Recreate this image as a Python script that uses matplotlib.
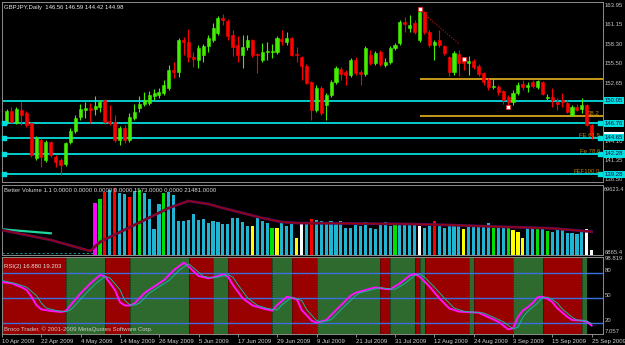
import numpy as np
import matplotlib
matplotlib.use("Agg")
import matplotlib.pyplot as plt
from matplotlib.patches import Rectangle
from matplotlib.transforms import blended_transform_factory as blend

plt.rcParams['font.family'] = ['Liberation Sans', 'DejaVu Sans']

# ---------------- data ----------------
title_text = "GBPJPY,Daily  146.56 146.59 144.42 144.98"
vol_title = "Better Volume 1.1 0.0000 0.0000 0.0000 0.0000 1573.0000 0.0000 21481.0000"
rsi_title = "RSI(2) 16.880 19.203"
copyright_text = "Broco Trader, \u00a9 2001-2009 MetaQuotes Software Corp."

date_labels = ["10 Apr 2009", "22 Apr 2009", "4 May 2009", "14 May 2009", "26 May 2009",
               "5 Jun 2009", "17 Jun 2009", "29 Jun 2009", "9 Jul 2009", "21 Jul 2009",
               "31 Jul 2009", "12 Aug 2009", "24 Aug 2009", "3 Sep 2009", "15 Sep 2009",
               "25 Sep 2009"]
date_label_bars = [0, 8, 16, 24, 32, 40, 48, 56, 64, 72, 80, 88, 96, 104, 112, 120]

opens = [146.95, 148.56, 146.80, 148.70, 148.26, 146.80, 141.69, 144.32, 141.39, 144.02,
         141.83, 141.39, 140.81, 144.02, 145.63, 147.68, 148.70, 149.00, 148.85, 149.14,
         150.16, 147.09, 146.95, 144.32, 146.07, 144.32, 147.53, 149.00, 149.58, 149.73,
         150.75, 150.90, 151.19, 151.92, 154.55, 154.26, 158.94, 158.65, 156.45, 156.01,
         156.74, 158.06, 158.94, 159.96, 162.15, 161.72, 159.67, 158.21, 156.74, 157.91,
         158.94, 156.89, 156.01, 157.18, 157.18, 157.18, 159.08, 158.65, 159.23, 156.89,
         156.45, 155.14, 152.80, 148.70, 151.92, 149.43, 150.90, 152.80, 154.70, 154.26,
         153.82, 156.01, 154.26, 153.97, 156.74, 155.57, 157.18, 155.28, 155.72, 157.77,
         158.50, 161.57, 160.69, 161.42, 158.94, 163.03, 160.11, 158.21, 158.94, 158.06,
         156.45, 154.26, 156.89, 156.01, 155.57, 155.87, 155.14, 154.11, 153.09, 152.07,
         152.07, 151.48, 150.60, 149.87, 151.19, 152.50, 152.07, 152.80, 152.07, 152.80,
         150.46, 150.60, 149.87, 150.16, 149.73, 147.97, 149.14, 148.85, 149.43, 146.56]
highs = [148.85, 149.14, 149.14, 149.87, 148.56, 146.95, 144.90, 144.61, 144.32, 144.17,
         142.12, 141.69, 144.02, 146.07, 147.97, 149.58, 149.87, 149.73, 150.75, 150.16,
         150.31, 149.43, 147.97, 146.36, 146.51, 148.26, 149.58, 150.75, 151.33, 151.48,
         151.77, 151.92, 153.09, 155.28, 155.72, 159.23, 159.38, 160.55, 157.18, 158.21,
         158.35, 159.67, 161.42, 162.45, 162.74, 162.01, 160.40, 159.52, 159.67, 159.67,
         159.08, 157.04, 158.50, 158.65, 158.35, 159.52, 160.40, 160.11, 159.38, 157.91,
         156.60, 155.43, 152.94, 152.36, 152.21, 151.19, 153.09, 155.14, 154.99, 154.55,
         156.31, 156.45, 154.55, 158.06, 157.48, 157.33, 157.48, 156.31, 158.06, 158.50,
         161.86, 162.30, 162.59, 161.86, 163.32, 163.18, 160.40, 158.94, 160.40, 158.21,
         156.60, 157.33, 157.48, 156.31, 156.60, 156.16, 155.43, 154.26, 153.38, 153.38,
         152.36, 151.63, 150.90, 151.63, 152.80, 153.09, 152.80, 153.09, 153.09, 152.94,
         151.04, 151.92, 150.46, 151.19, 150.16, 149.43, 149.58, 150.46, 149.58, 146.59]
lows = [146.66, 146.80, 146.66, 146.51, 146.22, 141.83, 141.39, 140.37, 141.10, 141.83,
        140.37, 139.20, 140.52, 143.73, 145.34, 147.24, 147.53, 146.80, 147.97, 148.41,
        146.66, 146.51, 144.02, 143.59, 143.88, 144.02, 147.24, 148.41, 149.29, 149.43,
        150.16, 150.46, 150.90, 151.63, 153.38, 153.53, 156.74, 155.72, 154.99, 154.84,
        155.72, 157.18, 158.65, 159.67, 161.13, 158.94, 156.60, 155.72, 154.84, 157.48,
        156.45, 154.11, 155.72, 156.01, 156.31, 156.89, 158.21, 158.21, 156.60, 155.72,
        153.09, 152.50, 147.24, 148.41, 147.97, 147.24, 150.60, 152.50, 153.09, 152.36,
        153.53, 153.82, 152.36, 153.67, 155.28, 155.28, 155.14, 154.99, 155.43, 157.48,
        158.21, 160.11, 160.11, 159.81, 158.65, 159.81, 157.91, 156.01, 157.91, 156.74,
        153.67, 153.82, 153.67, 154.55, 153.82, 154.70, 153.67, 152.36, 151.63, 151.77,
        150.90, 149.58, 149.00, 149.43, 150.90, 151.63, 151.33, 151.92, 151.77, 150.90,
        150.16, 149.14, 148.70, 149.14, 148.26, 147.83, 148.56, 148.26, 146.36, 144.42]
closes = [148.56, 146.95, 148.85, 147.97, 146.51, 142.12, 144.61, 141.83, 144.02, 142.12,
          141.10, 140.66, 143.88, 145.63, 147.53, 148.85, 149.00, 148.70, 149.29, 149.87,
          146.95, 146.80, 144.32, 146.07, 144.32, 147.68, 148.41, 149.58, 150.16, 150.90,
          151.19, 151.33, 152.36, 154.55, 154.26, 158.94, 158.65, 156.45, 156.16, 157.77,
          158.06, 159.23, 160.69, 162.15, 161.86, 159.52, 157.91, 156.74, 157.91, 158.94,
          156.74, 156.74, 157.18, 157.33, 157.33, 159.23, 158.79, 159.23, 156.74, 156.74,
          155.14, 152.65, 148.70, 151.92, 148.26, 150.90, 152.80, 154.84, 153.97, 153.82,
          156.01, 154.11, 153.97, 157.77, 155.57, 157.04, 155.43, 155.72, 157.77, 158.21,
          161.57, 161.28, 161.13, 160.11, 163.03, 160.11, 158.21, 158.65, 158.21, 157.04,
          154.26, 157.04, 155.57, 155.57, 155.87, 154.99, 153.97, 152.80, 152.07, 152.21,
          151.33, 150.16, 149.87, 151.19, 152.36, 152.07, 152.36, 152.21, 152.94, 151.04,
          150.60, 150.16, 149.58, 149.87, 148.41, 149.14, 148.70, 149.43, 146.51, 144.98]
first_bar = 1  # bar 0 (10 Apr) lies on the left edge

price_ticks = [163.95, 161.15, 158.30, 155.50, 152.65, 144.10, 141.35, 138.50]
cyan_levels = [150.05, 146.76, 144.65, 142.28, 139.28]
cyan_level_labels = ["150.05", "146.76", "144.65", "142.28", "139.28"]
cyan_marked = [146.76, 144.65, 142.28, 139.28]
gold_levels = [153.24, 147.83]
gold_start_bar = 85
fibo_text_levels = [147.83, 144.65, 142.28, 139.28]
fibo_texts = ["38.2", "FE 61.8", "Fe 78.6", "FEF100.0"]
bid_price = 144.98
trend_bars = [85, 93]
trend_prices = [163.3, 158.4]
fractal_bars = [85, 94, 103]
fractal_prices = [163.45, 156.2, 149.1]

# Better Volume
vol_first_bar = 19
volumes = [53015, 56707, 63168, 65014, 66860, 62245, 61322, 58553, 64091, 65014,
           62245, 56707, 29017, 52092, 62245, 63168, 60399, 36401, 36401, 37324,
           42862, 37324, 38247, 34555, 36401, 35478, 33632, 33632, 39170, 39170,
           35478, 31786, 31786, 39170, 36401, 34555, 29940, 29940, 34555, 31786,
           34555, 20710, 33632, 33632, 38247, 37324, 36401, 34555, 36401, 34555,
           36401, 29940, 29940, 32709, 31786, 35478, 29940, 29017, 32709, 35478,
           31786, 32709, 33632, 33632, 33632, 34555, 31786, 29940, 31786, 36401,
           33632, 29940, 31786, 31786, 31786, 29017, 30863, 30863, 32709, 31786,
           34555, 29940, 29940, 31786, 30863, 28094, 26248, 20710, 29940, 29017,
           29017, 29017, 27171, 26248, 28094, 28094, 25325, 25325, 24402, 27171,
           29017, 9634]
vol_kinds = list("MGRCRCCRCG" "CCCCGCCCCC" "CCCCCCCCCC" "CCYCCCGYCC" "CYWCRCCCCC"
                 "CCCCCCCCCC" "CGCCCCWCCR" "CCCCCYCCCC" "CGCCGYYYCC" "GCGCCCCCCC" "WW")
vol_ma_bars = [0, 10, 18, 20, 27, 34, 38, 42, 45, 49, 53, 57, 60, 83, 91, 101, 112, 120]
vol_ma = [28094, 18864, 8711, 17018, 32709, 48400, 54861, 52092, 48400, 43785,
          39170, 35478, 34555, 33632, 32709, 31140, 29663, 26525]
vol_early_bars = [0, 10]
vol_early = [28740, 25048]
vol_max_label, vol_min_label = "69623.4", "6865.4"
vol_min_value = 6865.4

# RSI
rsi_bars = [0, 2, 4, 5, 6, 7, 8, 10, 12, 13, 14, 16, 18, 20, 21, 23, 24, 25, 26, 27,
            29, 33, 35, 37, 38, 40, 42, 44, 45, 46, 47, 49, 51, 53, 55, 56, 58, 60, 61, 63,
            64, 66, 68, 71, 72, 74, 76, 77, 79, 81, 83, 84, 85, 87, 89, 91, 93, 97, 98, 101,
            103, 104, 105, 106, 107, 108, 109, 110, 111, 112, 113, 115, 116, 118, 119, 120]
rsi_vals = [69.0, 67.6, 62.8, 59.6, 51.6, 41.6, 36.4, 34.4, 33.2, 34.4, 41.6, 55.6, 67.6, 77.6, 75.6, 59.6, 45.0, 41.0, 41.0, 43.6,
            56.0, 71.6, 83.6, 92.4, 87.6, 76.4, 73.6, 76.4, 78.4, 75.6, 65.6, 49.6, 41.0, 37.6, 34.8, 41.6, 51.6, 48.4, 35.6, 22.8,
            20.4, 23.6, 35.6, 53.0, 56.4, 59.6, 62.8, 61.6, 60.4, 67.6, 77.0, 78.8, 75.6, 63.6, 49.6, 37.6, 33.6, 32.4, 29.6, 21.6,
            12.4, 13.6, 27.0, 35.0, 39.0, 44.0, 50.8, 51.6, 49.0, 45.0, 37.6, 27.6, 23.6, 22.8, 21.6, 16.9]
sig_bars = [0, 3, 5, 7, 8, 9, 11, 13, 14, 15, 17, 19, 21, 22, 24, 25, 26, 27, 28, 30,
            34, 36, 38, 39, 41, 43, 45, 46, 47, 48, 50, 52, 54, 56, 57, 59, 61, 62, 64, 65,
            67, 69, 72, 73, 75, 77, 78, 80, 82, 84, 85, 86, 88, 90, 92, 94, 98, 99, 102, 104,
            105, 106, 107, 108, 109, 110, 111, 112, 113, 114, 116, 117, 118, 119, 120]
sig_vals = [71, 67, 63, 53, 44, 38, 35, 33.5, 36, 42, 55, 67, 76, 74, 60, 47, 42, 41.5, 44, 56,
            71, 83, 91, 86, 76, 74, 76.5, 78, 75, 66, 50, 41, 37.5, 35.5, 42, 51, 47, 36, 23, 21,
            24, 36, 53, 56.5, 59.5, 62.5, 61.5, 60.5, 67.5, 77, 78.5, 75, 63, 50, 38, 34, 32, 29.5, 21.5, 13,
            15, 27, 34, 39, 44, 50.5, 51, 48, 44, 37, 27, 23.5, 23, 22.5, 19.2]
rsi_levels = [80, 50, 20]
rsi_max_label, rsi_min_label = "98.819", "7.057"
rsi_max, rsi_min = 98.819, 7.057
zone_runs = [("dn", 13), ("up", 8), ("dn", 5), ("up", 12), ("dn", 5), ("up", 3), ("dn", 9),
             ("up", 4), ("dn", 5), ("up", 13), ("dn", 2), ("up", 5), ("dn", 1), ("up", 1),
             ("dn", 9), ("up", 1), ("dn", 8), ("up", 6), ("dn", 8), ("up", 1)]

# ---------------- style ----------------
W, H = 625, 345
BG = '#000000'
BULL, BEAR = '#44ee00', '#ff0000'
CYAN = '#00dede'
GOLD = '#d9a520'
GOLD_TXT = '#b8860b'
AXTXT = '#c4c4c4'
FS = 4.3
vol_colors = {'C': '#1fb4d2', 'R': '#ff0000', 'G': '#00e000', 'Y': '#ffff00',
              'W': '#ffffff', 'M': '#ff00ff'}
zone_colors = {'up': '#2e6a2e', 'dn': '#990000'}

fig = plt.figure(figsize=(W / 100, H / 100), dpi=100, facecolor=BG)


def px_axes(x0, y0, x1, y1):
    return fig.add_axes([x0 / W, 1 - y1 / H, (x1 - x0) / W, (y1 - y0) / H], facecolor=BG)


ax_p = px_axes(2, 2, 603, 182)
ax_v = px_axes(2, 184.5, 603, 254.5)
ax_r = px_axes(2, 256.5, 603, 334)

X_LEFT, X_RIGHT = 0.08, 122.3
for ax in (ax_p, ax_v, ax_r):
    ax.set_xlim(X_LEFT, X_RIGHT)
    ax.set_yticks([])
    ax.set_xticks([])
    for s in ax.spines.values():
        s.set_color('#8c8c8c')
        s.set_linestyle((0, (1, 1)))
        s.set_linewidth(0.7)

RX = 605 / W  # right-axis label x (figure fraction)

# ---------------- price panel ----------------
o = np.array(opens); h = np.array(highs); l = np.array(lows); c = np.array(closes)
bars = np.arange(first_bar, first_bar + len(c))
ax_p.set_ylim(138.18, 164.49)
cols = np.where(c >= o, BULL, BEAR)

for lv in cyan_levels:
    ax_p.axhline(lv, color=CYAN, lw=1.3, zorder=1)
for lv in gold_levels:
    ax_p.hlines(lv, gold_start_bar, X_RIGHT, color=GOLD, lw=1.3, zorder=1)

ax_p.vlines(bars, l, h, colors=cols, lw=0.8, zorder=3)
ax_p.bar(bars, np.abs(c - o), bottom=np.minimum(o, c), width=0.62, color=cols,
         edgecolor=cols, lw=0.4, zorder=4)

ax_p.plot(trend_bars, trend_prices, color='#c01010', lw=0.8, ls=(0, (1, 1.5)), zorder=5)
ax_p.scatter(fractal_bars, fractal_prices, marker='s', s=5, facecolor='white',
             edgecolor='#ff2020', lw=0.5, zorder=6)

tl = blend(ax_p.transAxes, ax_p.transData)
ax_p.scatter([0.004] * len(cyan_marked), cyan_marked, marker='s', s=7, color=CYAN,
             transform=tl, zorder=6, clip_on=False)
ax_p.scatter([0.995] * len(cyan_marked), cyan_marked, marker='s', s=7, color=CYAN,
             transform=tl, zorder=6, clip_on=False)

for lv, txt in zip(fibo_text_levels, fibo_texts):
    ax_p.text(0.995, lv, txt, transform=tl, ha='right', va='bottom', fontsize=FS,
              color=GOLD_TXT, zorder=7)

ax_p.text(0.004, 0.985, title_text, transform=ax_p.transAxes, ha='left', va='top',
          fontsize=FS, color='#e8e8e8')

tr_p = blend(fig.transFigure, ax_p.transData)
for pv in price_ticks:
    ax_p.text(RX, pv, f"{pv:.2f}", transform=tr_p, ha='left', va='center',
              fontsize=FS, color=AXTXT, clip_on=False)
# current bid price marker (white tag mostly hidden behind the 144.65 tag)
ax_p.add_patch(Rectangle((604 / W, bid_price - 0.55), 20 / W, 1.1, transform=tr_p,
                         facecolor='white', edgecolor='none', clip_on=False, zorder=8))
for lv, txt in zip(cyan_levels, cyan_level_labels):
    ax_p.text(RX, lv, txt, transform=tr_p, ha='left', va='center', fontsize=FS,
              color='#101040', clip_on=False, zorder=9,
              bbox=dict(boxstyle='square,pad=0.18', fc=CYAN, ec='none'))

# ---------------- volume panel ----------------
v = np.array(volumes, dtype=float)
vbars = np.arange(vol_first_bar, vol_first_bar + len(v))
VLO, VHI = 5480, 70090
ax_v.set_ylim(VLO, VHI)
ax_v.bar(vbars, v - VLO, bottom=VLO, width=0.64,
         color=[vol_colors[k] for k in vol_kinds], lw=0, zorder=2)
ax_v.hlines(vol_min_value, X_LEFT, vol_first_bar - 0.5, color='#1a8a8a', lw=0.8,
            ls=(0, (2, 2)), zorder=2)
ax_v.plot(vol_early_bars, vol_early, color='#22d4a0', lw=1.6, zorder=3)
ax_v.plot(vol_ma_bars, vol_ma, color='#5a0a5a', lw=2.0, zorder=3)
ax_v.plot(vol_ma_bars, vol_ma, color='#a00000', lw=0.8, zorder=4)
ax_v.text(0.004, 0.95, vol_title, transform=ax_v.transAxes, ha='left', va='top',
          fontsize=FS, color='#d8d8d8')
tr_v = blend(fig.transFigure, ax_v.transAxes)
ax_v.text(603.5 / W, 0.97, vol_max_label, transform=tr_v, ha='left', va='top',
          fontsize=FS - 0.2, color=AXTXT, clip_on=False)
ax_v.text(RX, 0.0, vol_min_label, transform=tr_v, ha='left', va='bottom', fontsize=FS,
          color=AXTXT, clip_on=False)

# ---------------- RSI panel ----------------
ax_r.set_ylim(6.8, 99.8)
start = 0
edges = []
for kind, n in zone_runs:
    ax_r.axvspan(start, start + n, color=zone_colors[kind], lw=0, zorder=0)
    edges.append(start)
    start += n
edges.append(start)
ax_r.axvspan(X_LEFT, 0, color=zone_colors[zone_runs[0][0]], lw=0, zorder=0)
ax_r.vlines(edges[1:], 6.8, 99.8, color='#111111', lw=0.6, ls=(0, (1, 1)), zorder=1)
for lv in rsi_levels:
    ax_r.axhline(lv, color='#3c6ee0', lw=1.0, zorder=2)
ax_r.plot(rsi_bars, rsi_vals, color='#ff10ff', lw=1.4, zorder=3)
ax_r.plot(sig_bars, sig_vals, color='#20b0a0', lw=0.7, zorder=4)
ax_r.text(0.004, 0.9, rsi_title, transform=ax_r.transAxes, ha='left', va='top',
          fontsize=FS, color='#e0e0e0')
ax_r.text(0.004, 0.03, copyright_text, transform=ax_r.transAxes, ha='left', va='bottom',
          fontsize=FS, color='#c8c8c8')
tr_r = blend(fig.transFigure, ax_r.transData)
ax_r.text(RX, 99.8, rsi_max_label, transform=tr_r, ha='left', va='top', fontsize=FS,
          color=AXTXT, clip_on=False)
for lv in rsi_levels:
    ax_r.text(RX, lv, str(lv), transform=tr_r, ha='left', va='bottom', fontsize=FS,
              color=AXTXT, clip_on=False)
ax_r.text(RX, rsi_min, rsi_min_label, transform=tr_r, ha='left', va='bottom', fontsize=FS,
          color=AXTXT, clip_on=False)

ax_r.set_xticks(date_label_bars)
ax_r.set_xticklabels(date_labels)
ax_r.tick_params(axis='x', length=2.5, width=0.6, color='#a0a0a0', labelcolor='#d0d0d0',
                 labelsize=FS, pad=0.8)
for lab in ax_r.get_xticklabels():
    lab.set_ha('left')

fig.savefig('out.png', dpi=100, facecolor=BG)
